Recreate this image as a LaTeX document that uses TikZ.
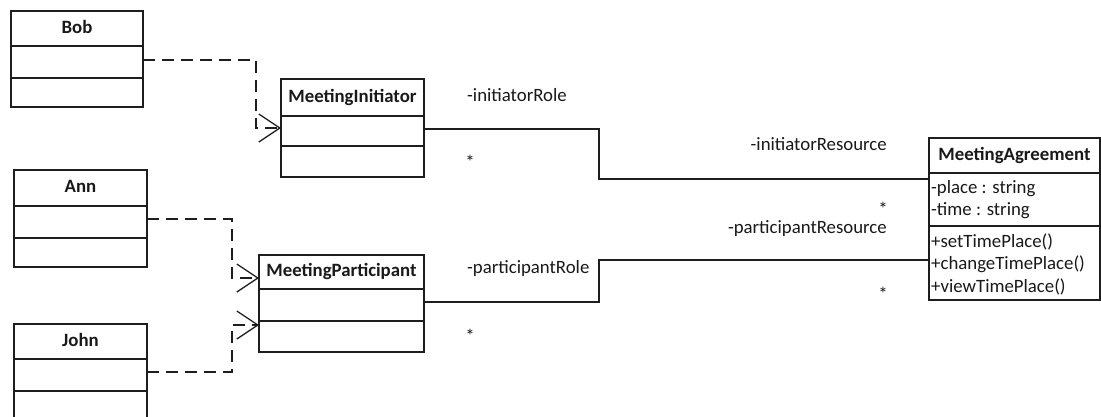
\documentclass[tikz,border=0pt]{standalone}
\usepackage{fontspec}
\setmainfont{Carlito}
\usetikzlibrary{arrows.meta}
\definecolor{ink}{RGB}{30,30,30}
\definecolor{txt}{RGB}{25,25,25}

% class box: name, left, right, top, title bottom, attributes bottom, bottom, title
\newcommand{\umlclass}[8]{%
  \node[classtitle, minimum width={(#3-#2)*1pt}, minimum height={(#5-#4)*1pt}]
    (#1) at ({(#2+#3)/2},{(#4+#5)/2}) {#8};
  \node[classpart, minimum width={(#3-#2)*1pt}, minimum height={(#6-#5)*1pt}]
    (#1-a) at ({(#2+#3)/2},{(#5+#6)/2}) {};
  \node[classpart, minimum width={(#3-#2)*1pt}, minimum height={(#7-#6)*1pt}]
    (#1-o) at ({(#2+#3)/2},{(#6+#7)/2}) {};
}

\tikzset{
  classpart/.style={draw=ink, line width=1.7pt, inner sep=0pt, outer sep=0pt},
  classtitle/.style={classpart, font=\fontsize{18.8}{22}\selectfont\bfseries,
    text=txt, text height=13pt, text depth=4pt},
  lbl/.style={inner sep=0pt, font=\fontsize{18.8}{22}\selectfont, text=txt},
  member/.style={lbl, anchor=base west},
  dep/.style={draw=ink, line width=1.6pt, dash pattern=on 12pt off 7pt,
    -{Straight Barb[length=21pt, width=28pt, line width=1.3pt]}},
  assoc/.style={draw=ink, line width=1.6pt}
}

\begin{document}
\begin{tikzpicture}[x=1pt, y=-1pt]
  \useasboundingbox (0,0) rectangle (1101,416);
  \clip (0,0) rectangle (1101,416);
  \fill[white] (0,0) rectangle (1101,416);

  % classes
  \umlclass{bob}{11}{143}{11}{46}{78}{107}{Bob}
  \umlclass{ann}{14}{147}{170}{206}{238}{267}{Ann}
  \umlclass{john}{14}{147}{324}{359}{391}{428}{John}
  \umlclass{mi}{281}{424}{79}{116}{146}{177}{MeetingInitiator}
  \umlclass{mp}{259}{424}{255}{289}{321}{352}{MeetingParticipant}
  \umlclass{ma}{929}{1100}{138}{173}{226}{300}{MeetingAgreement}

  % members of MeetingAgreement
  \node[member] (ma-place) at (931,193) {-place : string};
  \node[member] (ma-time)  at (931,215) {-time : string};
  \node[member] (ma-set)   at (931,247) {+setTimePlace()};
  \node[member] (ma-chg)   at (931,269) {+changeTimePlace()};
  \node[member] (ma-view)  at (931,292) {+viewTimePlace()};

  % dependencies of the instances on their roles
  \coordinate (jb) at (256,90);
  \coordinate (ja) at (232,250);
  \coordinate (jj) at (232,350);
  \draw[dep] ([yshift=2pt]bob-a.east) -| (jb) |- ([yshift=3pt]mi-a.west);
  \draw[dep] ([yshift=3pt]ann-a.east) -| (ja) |- ([yshift=-6pt]mp.west);
  \draw[dep] ([yshift=3pt]john-a.east) -| (jj) |- ([yshift=-4pt]mp-o.north west);

  % associations with the agreement
  \coordinate (j1) at (599,150);
  \coordinate (j2) at (599,280);
  \draw[assoc] ([yshift=2pt]mi-a.east) -| (j1) |- ([yshift=-6pt]ma-a.north west);
  \draw[assoc] ([yshift=3pt]mp-a.east) -| (j2) |- ([yshift=-34pt]ma-o.north west);

  % role names and multiplicities
  \node[lbl, anchor=base west] (r1) at (467,101) {-initiatorRole};
  \node[lbl, anchor=base west] (r2) at (467,273) {-participantRole};
  \node[lbl, anchor=base east] (r3) at (887,150) {-initiatorResource};
  \node[lbl, anchor=base east] (r4) at (887,233) {-participantResource};
  \node[lbl, anchor=base] (m1) at (470,168) {*};
  \node[lbl, anchor=base] (m2) at (470,342) {*};
  \node[lbl, anchor=base] (m3) at (883,215) {*};
  \node[lbl, anchor=base] (m4) at (883,300) {*};
\end{tikzpicture}
\end{document}
